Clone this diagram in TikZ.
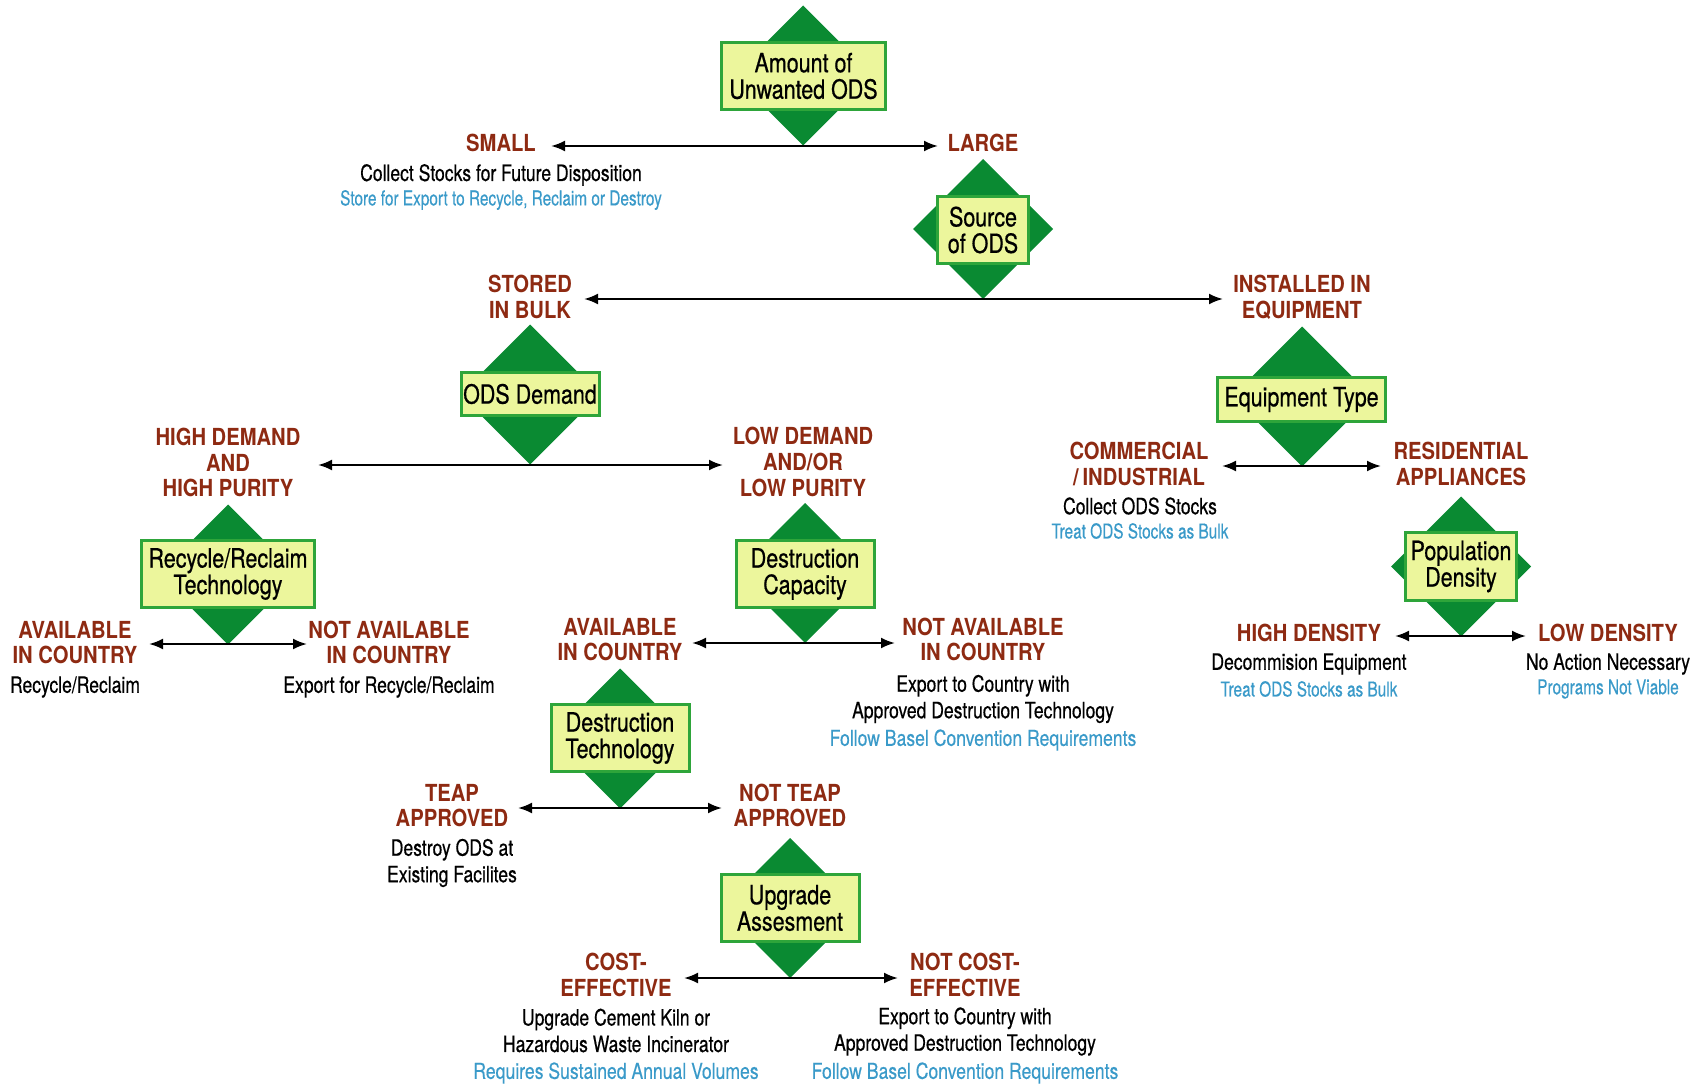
\documentclass[tikz,border=0pt]{standalone}
\usepackage{fontspec}
\setmainfont{TeX Gyre Heros}
\newfontfamily\fBox{TeX Gyre Heros}[FakeStretch=0.81,FakeBold=0.6]
\newfontfamily\fRed{TeX Gyre Heros}[FakeStretch=0.86]
\newfontfamily\fSub{TeX Gyre Heros}[FakeStretch=0.78,FakeBold=0.5]
\newfontfamily\fNote{TeX Gyre Heros}[FakeStretch=0.80,FakeBold=0.3]
\newfontfamily\fNoteS{TeX Gyre Heros}[FakeStretch=0.75,FakeBold=0.3]
\usetikzlibrary{shapes.geometric,arrows.meta}
\definecolor{dgreen}{HTML}{0A8A32}
\definecolor{bgreen}{HTML}{2EA53A}
\definecolor{byellow}{HTML}{ECF69C}
\definecolor{lblred}{HTML}{8E2A12}
\definecolor{lblblue}{HTML}{3A9AC9}
\tikzset{
  dia/.style={diamond, fill=dgreen, draw=none, inner sep=0pt, outer sep=0pt, minimum width=140pt, minimum height=140pt},
  qbox/.style={rectangle, fill=byellow, draw=bgreen, line width=3pt, inner sep=0pt, align=center, font={\fBox\fontsize{26.5}{26.5}\selectfont}},
  lbl/.style={align=center, text=lblred, inner sep=0pt, font={\fRed\bfseries\fontsize{23.5}{25.7}\selectfont}},
  sub/.style={align=center, text=black, inner sep=0pt, font={\fSub\fontsize{22.5}{26.5}\selectfont}},
  note/.style={align=center, text=lblblue, inner sep=0pt, font={\fNote\fontsize{22}{25}\selectfont}},
  notes/.style={align=center, text=lblblue, inner sep=0pt, font={\fNoteS\fontsize{20.5}{25}\selectfont}},
  conn/.style={line width=2.2pt, {Latex[length=14pt,width=11pt]}-{Latex[length=14pt,width=11pt]}},
}
\begin{document}
\begin{tikzpicture}[x=1pt,y=-1pt]
\useasboundingbox (0,0) rectangle (1701,1086);
% diamonds
\node[dia] (d1) at (803,75.5) {};
\node[dia] (d2) at (983,229) {};
\node[dia] (d3) at (530,394.5) {};
\node[dia] (d4) at (1302,396.5) {};
\node[dia] (d5) at (228,574.5) {};
\node[dia] (d6) at (805,573) {};
\node[dia] (d7) at (1461,566.5) {};
\node[dia] (d8) at (620,738.5) {};
\node[dia] (d9) at (790,908) {};
% boxes
\node[qbox, minimum width=164pt, minimum height=67pt] (b1) at (803.5,76) {Amount of\\Unwanted ODS};
\node[qbox, minimum width=91pt, minimum height=67pt] (b2) at (983,230) {Source\\of ODS};
\node[qbox, minimum width=138pt, minimum height=43pt] (b3) at (530,394) {ODS Demand};
\node[qbox, minimum width=168pt, minimum height=44pt] (b4) at (1301.5,399.5) {Equipment Type};
\node[qbox, minimum width=173pt, minimum height=67pt] (b5) at (228,574) {Recycle/Reclaim\\Technology};
\node[qbox, minimum width=138pt, minimum height=67pt] (b6) at (805,574) {Destruction\\Capacity};
\node[qbox, minimum width=111pt, minimum height=68pt] (b7) at (1461,566.5) {Population\\Density};
\node[qbox, minimum width=138pt, minimum height=67pt] (b8) at (620,738) {Destruction\\Technology};
\node[qbox, minimum width=138pt, minimum height=67pt] (b9) at (790,908) {Upgrade\\Assesment};
% connectors
\coordinate (a1l) at (551,146);  \coordinate (a1r) at (938,146);
\coordinate (a2l) at (584,299);  \coordinate (a2r) at (1223,299);
\coordinate (a3l) at (318,465);  \coordinate (a3r) at (723,465);
\coordinate (a4l) at (1222,466); \coordinate (a4r) at (1381,466);
\coordinate (a5l) at (149,644);  \coordinate (a5r) at (307,644);
\coordinate (a6l) at (692,643);  \coordinate (a6r) at (895,643);
\coordinate (a7l) at (1395,636); \coordinate (a7r) at (1526,636);
\coordinate (a8l) at (518,808);  \coordinate (a8r) at (722,808);
\coordinate (a9l) at (684,978);  \coordinate (a9r) at (898,978);
\foreach \i in {1,...,9} {\draw[conn] (a\i l) -- (a\i r);}
% red labels
\node[lbl] (small) at (501,143) {SMALL};
\node[lbl] (large) at (983,143) {LARGE};
\node[lbl] (bulk) at (530,297) {STORED\\IN BULK};
\node[lbl] (inst) at (1302,297) {INSTALLED IN\\EQUIPMENT};
\node[lbl] (hd) at (228,462.5) {HIGH DEMAND\\AND\\HIGH PURITY};
\node[lbl] (ld) at (803,462) {LOW DEMAND\\AND/OR\\LOW PURITY};
\node[lbl] (comm) at (1139,464) {COMMERCIAL\\/\,INDUSTRIAL};
\node[lbl] (resi) at (1461,464) {RESIDENTIAL\\APPLIANCES};
\node[lbl] (av1) at (75,642.5) {AVAILABLE\\IN COUNTRY};
\node[lbl] (nav1) at (389,642.5) {NOT AVAILABLE\\IN COUNTRY};
\node[lbl] (av2) at (620,639.5) {AVAILABLE\\IN COUNTRY};
\node[lbl] (nav2) at (983,639.5) {NOT AVAILABLE\\IN COUNTRY};
\node[lbl] (hden) at (1309,633) {HIGH DENSITY};
\node[lbl] (lden) at (1608,633) {LOW DENSITY};
\node[lbl] (teap) at (452,805.5) {TEAP\\APPROVED};
\node[lbl] (nteap) at (790,805.5) {NOT TEAP\\APPROVED};
\node[lbl] (cost) at (616,975) {COST-\\EFFECTIVE};
\node[lbl] (ncost) at (965,975) {NOT COST-\\EFFECTIVE};
% black texts
\node[sub] (t1) at (501,175) {Collect Stocks for Future Disposition};
\node[sub] (t2) at (75,687) {Recycle/Reclaim};
\node[sub] (t3) at (389,687) {Export for Recycle/Reclaim};
\node[sub] (t4) at (1140,506) {Collect ODS Stocks};
\node[sub] (t5) at (983,699) {Export to Country with\\Approved Destruction Technology};
\node[sub] (t6) at (1309,664) {Decommision Equipment};
\node[sub] (t7) at (1608,664) {No Action Necessary};
\node[sub] (t8) at (452,863) {Destroy ODS at\\Existing Facilites};
\node[sub] (t9) at (616,1030.5) {Upgrade Cement Kiln or\\Hazardous Waste Incinerator};
\node[sub] (t10) at (965,1031.5) {Export to Country with\\Approved Destruction Technology};
% blue texts
\node[notes] (n1) at (501,200) {Store for Export to Recycle, Reclaim or Destroy};
\node[notes] (n2) at (1140,531) {Treat ODS Stocks as Bulk};
\node[note] (n3) at (983,740) {Follow Basel Convention Requirements};
\node[notes] (n4) at (1309,689) {Treat ODS Stocks as Bulk};
\node[notes] (n5) at (1608,689) {Programs Not Viable};
\node[note] (n6) at (616,1073) {Requires Sustained Annual Volumes};
\node[note] (n7) at (965,1073) {Follow Basel Convention Requirements};
\end{tikzpicture}
\end{document}
